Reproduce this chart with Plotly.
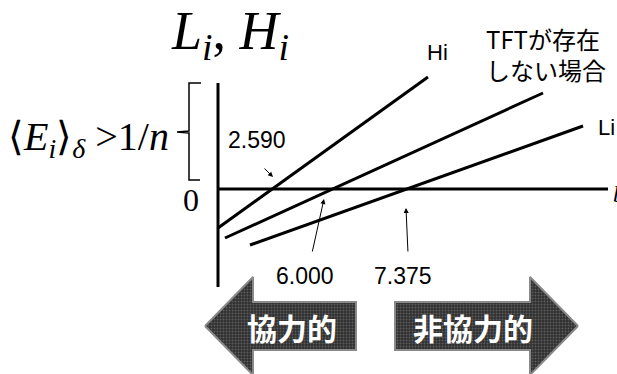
import plotly.graph_objects as go

# ---- chart values (diagram units; origin = axis intersection) ----
line_names = ["Hi", "TFTが存在<br>しない場合", "Li"]
hi_x = [0, 210]
hi_y = [-39, 112]
notft_x = [7, 325]
notft_y = [-49, 96]
li_x = [32, 365]
li_y = [-56, 63]
crossing_labels = ["2.590", "6.000", "7.375"]
arrow_labels = ["協力的", "非協力的"]

SERIF = "Liberation Serif, Times New Roman, serif"
SANS = "Liberation Sans, Arial, sans-serif"
CJK = "Noto Sans CJK JP, sans-serif"

fig = go.Figure()

# axes
fig.add_trace(go.Scatter(x=[0, 390], y=[0, 0], mode="lines",
                         line=dict(color="black", width=3), hoverinfo="skip"))
fig.add_trace(go.Scatter(x=[0, 0], y=[106, -98], mode="lines",
                         line=dict(color="black", width=3), hoverinfo="skip"))

# payoff lines
for xs, ys in [(hi_x, hi_y), (notft_x, notft_y), (li_x, li_y)]:
    fig.add_trace(go.Scatter(x=xs, y=ys, mode="lines",
                             line=dict(color="black", width=3), hoverinfo="skip"))

# brace
fig.add_trace(go.Scatter(x=[-17, -29, -29, -41, -29, -29, -18],
                         y=[106, 106, 58, 57, 56, 9, 9], mode="lines",
                         line=dict(color="black", width=1.5), hoverinfo="skip"))

# block arrows
def block_arrow(tip, head_base, body_end, yc, hh, bh):
    xs = [tip, head_base, head_base, body_end, body_end, head_base, head_base, tip]
    ys = [yc, yc + hh, yc + bh, yc + bh, yc - bh, yc - bh, yc - hh, yc]
    return xs, ys

for tip, hb, be in [(-13, 35, 138), (360, 312, 177)]:
    xs, ys = block_arrow(tip, hb, be, -137, 49, 24)
    fig.add_trace(go.Scatter(x=xs, y=ys, mode="lines", fill="toself",
                             fillcolor="#333333",
                             fillpattern=dict(shape=".", bgcolor="#2f2f2f",
                                              fgcolor="#8c8c8c", size=3, solidity=0.35),
                             line=dict(color="#8a8a8a", width=2), hoverinfo="skip"))

ann = []
ann.append(dict(x=12, y=155, text="<i>L<sub>i</sub></i>, <i>H<sub>i</sub></i>",
                font=dict(family=SERIF, size=54, color="black"), showarrow=False))
ann.append(dict(x=-47, y=50, xanchor="right",
                text="⟨<i>E<sub>i</sub></i>⟩<sub><i>δ</i></sub> >1/<i>n</i>",
                font=dict(family=SERIF, size=40, color="black"), showarrow=False))
ann.append(dict(x=-27, y=-11, text="0",
                font=dict(family=SERIF, size=32, color="black"), showarrow=False))
ann.append(dict(x=393, y=-5, xanchor="left", text="<i>b</i>",
                font=dict(family=SERIF, size=24, color="black"), showarrow=False))

# crossing value labels
for (tx, ty), lab in zip([(39, 49), (87, -87), (185, -87)], crossing_labels):
    ann.append(dict(x=tx, y=ty, text=lab, showarrow=False,
                    font=dict(family=SANS, size=23, color="black")))

# small pointer arrows
for (hx, hy, tx, ty) in [(55, 12, 45, 22), (106, -10, 94, -64), (188, -19, 190, -64)]:
    ann.append(dict(x=hx, y=hy, ax=tx, ay=ty, axref="x", ayref="y", text="",
                    showarrow=True, arrowhead=2, arrowsize=1, arrowwidth=1,
                    arrowcolor="black"))

# line labels
ann.append(dict(x=219, y=137, text=line_names[0], showarrow=False,
                font=dict(family=SANS, size=22, color="black")))
ann.append(dict(x=266, y=135, xanchor="left", align="left", text=line_names[1],
                showarrow=False, font=dict(family=CJK, size=24, color="black")))
ann.append(dict(x=378, y=62, xanchor="left", text=line_names[2], showarrow=False,
                font=dict(family=SANS, size=22, color="black")))

# arrow texts
for cx, lab in zip([74, 255], arrow_labels):
    ann.append(dict(x=cx, y=-138, text="<b>" + lab + "</b>", showarrow=False,
                    font=dict(family=CJK, size=30, color="white")))

fig.update_layout(
    width=617, height=374,
    margin=dict(l=0, r=0, t=0, b=0),
    paper_bgcolor="white", plot_bgcolor="white",
    showlegend=False,
    xaxis=dict(range=[-218, 399], visible=False, fixedrange=True),
    yaxis=dict(range=[-185, 189], visible=False, fixedrange=True),
    annotations=ann,
)

fig.write_html("out.html", config={"displayModeBar": False},
               post_script="document.body.style.margin='0';document.body.style.overflow='hidden';")
